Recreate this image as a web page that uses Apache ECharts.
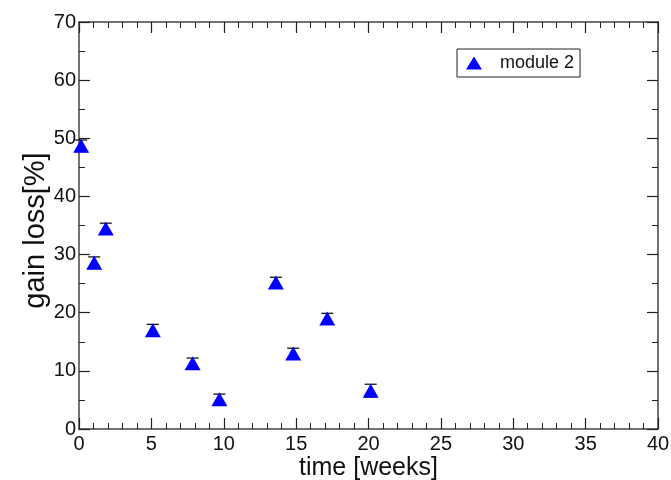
<!DOCTYPE html>
<html>
<head>
<meta charset="utf-8">
<script src="https://cdn.jsdelivr.net/npm/echarts@6/dist/echarts.min.js"></script>
<style>
  html, body { margin: 0; padding: 0; background: #fff; }
  #chart { width: 671px; height: 480px; }
</style>
</head>
<body>
<div id="chart"></div>
<script>
// data
const weeks    = [0.15, 1.05, 1.85, 5.1, 7.85, 9.7, 13.6, 14.8, 17.15, 20.15];
const gainLoss = [48.7, 28.6, 34.5, 17.0, 11.3, 5.1, 25.2, 13.0, 19.0, 6.6];
const errors   = [1.0, 1.0, 0.9, 1.0, 0.9, 0.9, 0.9, 0.9, 0.9, 1.1];
const seriesName = 'module 2';

const points = weeks.map((w, i) => [w, gainLoss[i]]);
const bars = weeks.map((w, i) => [w, gainLoss[i] - errors[i], gainLoss[i] + errors[i]]);

const font = 'Liberation Sans, Arial, sans-serif';
const axisColor = '#444';

const chart = echarts.init(document.getElementById('chart'));

// error bars drawn with coord conversion
function renderErr(params, api) {
  const x = api.value(0);
  const lo = api.coord([x, api.value(1)]);
  const hi = api.coord([x, api.value(2)]);
  const w = 6;
  const st = { stroke: '#000', lineWidth: 1.2 };
  return {
    type: 'group',
    children: [
      { type: 'line', shape: { x1: lo[0], y1: lo[1], x2: hi[0], y2: hi[1] }, style: st },
      { type: 'line', shape: { x1: lo[0] - w, y1: lo[1], x2: lo[0] + w, y2: lo[1] }, style: st },
      { type: 'line', shape: { x1: hi[0] - w, y1: hi[1], x2: hi[0] + w, y2: hi[1] }, style: st }
    ]
  };
}

const axisLine = { show: true, onZero: false, lineStyle: { color: axisColor, width: 1.5 } };
const axisTick = { show: true, inside: true, length: 11, lineStyle: { color: '#222', width: 1.2 } };
const minor = n => ({ show: true, splitNumber: n, length: 6, lineStyle: { color: '#222', width: 1 } });

chart.setOption({
  animation: false,
  backgroundColor: '#fff',
  grid: { left: 79, right: 13, top: 22, bottom: 51, containLabel: false, outerBoundsMode: 'none' },
  legend: {
    data: [{ name: seriesName, icon: 'triangle' }],
    left: 457, top: 49,
    padding: [5, 6, 5, 9],
    itemWidth: 16, itemHeight: 13, itemGap: 5,
    borderColor: '#222', borderWidth: 1,
    textStyle: { fontFamily: font, fontSize: 18, color: '#111', padding: [0, 0, 0, 13] }
  },
  xAxis: [
    {
      type: 'value', min: 0, max: 40, interval: 5,
      axisLine, axisTick, minorTick: minor(5), splitLine: { show: false },
      axisLabel: { fontFamily: font, fontSize: 20, color: '#111', margin: 5 },
      name: 'time [weeks]', nameLocation: 'middle', nameGap: 27, nameMoveOverlap: false,
      nameTextStyle: { fontFamily: font, fontSize: 25, color: '#111', verticalAlign: 'top' }
    },
    {
      type: 'value', position: 'top', min: 0, max: 40, interval: 5,
      axisLine, axisTick, minorTick: minor(5), splitLine: { show: false },
      axisLabel: { show: false }
    }
  ],
  yAxis: [
    {
      type: 'value', min: 0, max: 70, interval: 10,
      axisLine, axisTick, minorTick: minor(2), splitLine: { show: false },
      axisLabel: { fontFamily: font, fontSize: 20, color: '#111', margin: 3 },
      name: 'gain loss[%]', nameLocation: 'middle', nameGap: 29, nameMoveOverlap: false,
      nameTextStyle: { fontFamily: font, fontSize: 29, color: '#111', padding: [0, 10, 0, 0] }
    },
    {
      type: 'value', position: 'right', min: 0, max: 70, interval: 10,
      axisLine, axisTick, minorTick: minor(2), splitLine: { show: false },
      axisLabel: { show: false }
    }
  ],
  series: [
    {
      type: 'custom', name: 'err', renderItem: renderErr, data: bars,
      encode: { x: 0, y: [1, 2] }, z: 1, silent: true
    },
    {
      type: 'scatter', name: seriesName, data: points,
      symbol: 'triangle', symbolSize: [16, 14],
      itemStyle: { color: '#0000ff', opacity: 1 }, z: 2
    }
  ]
});
</script>
</body>
</html>
